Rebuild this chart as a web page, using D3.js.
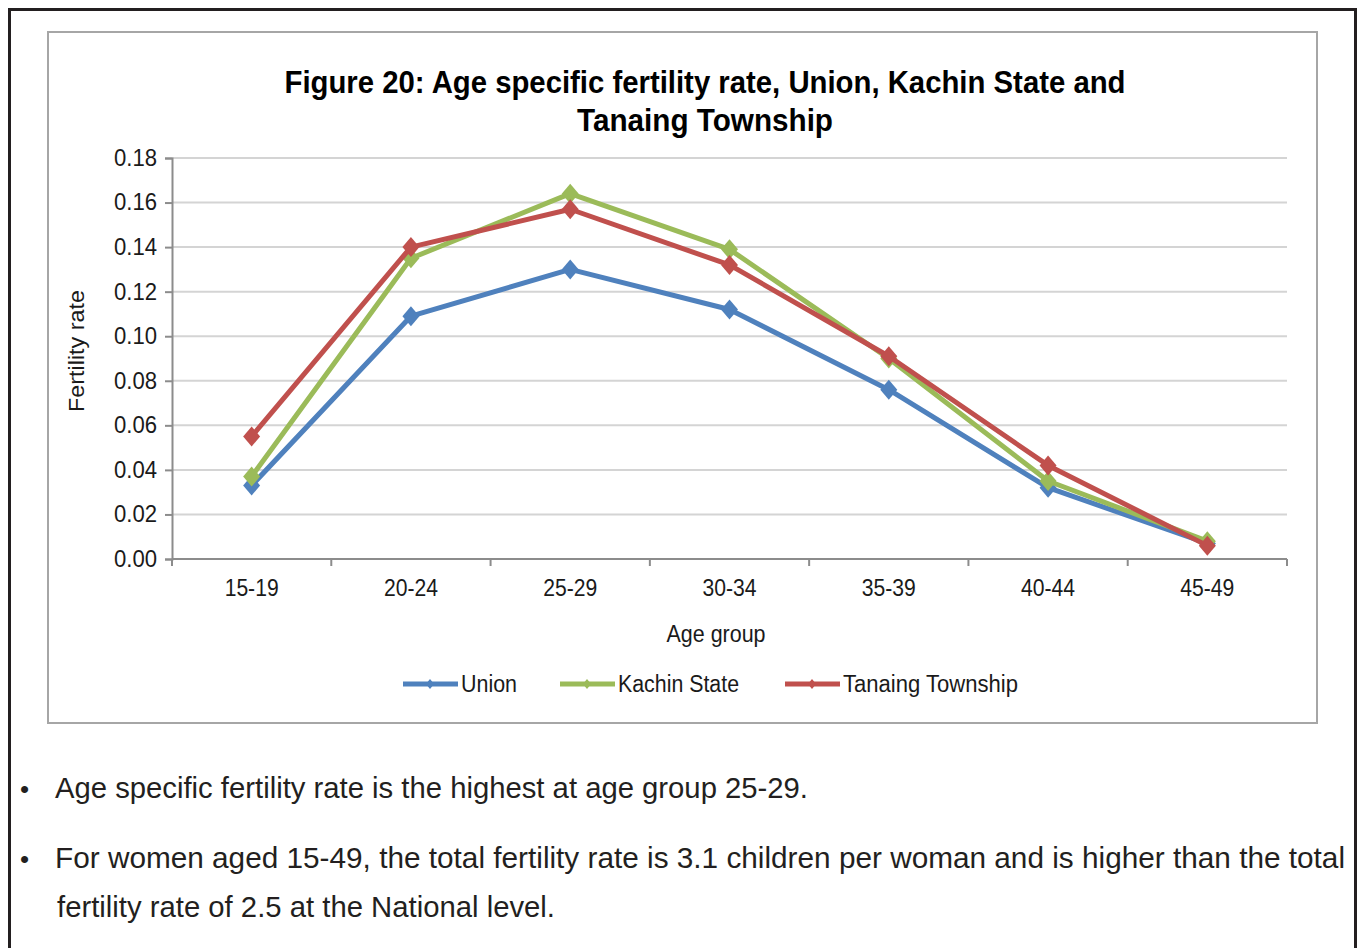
<!DOCTYPE html>
<html>
<head>
<meta charset="utf-8">
<script src="https://cdn.jsdelivr.net/npm/d3@7"></script>
<style>
  html, body { margin: 0; padding: 0; background: #fff; }
  svg { display: block; font-family: "Liberation Sans", Arial, sans-serif; }
</style>
</head>
<body>
<div id="chart"></div>
<script>
// data
const ageGroups = ['15-19', '20-24', '25-29', '30-34', '35-39', '40-44', '45-49'];
const unionRate = [0.033, 0.109, 0.130, 0.112, 0.076, 0.032, 0.007];
const kachinRate = [0.037, 0.135, 0.164, 0.139, 0.090, 0.035, 0.008];
const tanaingRate = [0.055, 0.140, 0.157, 0.132, 0.091, 0.042, 0.006];
const seriesNames = ['Union', 'Kachin State', 'Tanaing Township'];
const yTicks = [0, 0.02, 0.04, 0.06, 0.08, 0.10, 0.12, 0.14, 0.16, 0.18];

const colors = ['#4f81bd', '#9bbb59', '#c0504d'];
const series = [unionRate, kachinRate, tanaingRate].map((vals, i) => ({
  name: seriesNames[i], color: colors[i],
  values: vals.map((v, j) => ({ age: ageGroups[j], v }))
}));

const W = 1358, H = 948;
const svg = d3.select('#chart').append('svg').attr('width', W).attr('height', H);

// excel-like diamond: a bit wider than d3's
const wideDiamond = (w, h) => ({
  draw(ctx) {
    ctx.moveTo(0, -h / 2); ctx.lineTo(w / 2, 0); ctx.lineTo(0, h / 2); ctx.lineTo(-w / 2, 0); ctx.closePath();
  }
});

// page frame + chart box
svg.append('rect').attr('x', 9.5).attr('y', 9.5).attr('width', 1346).attr('height', 960)
  .attr('fill', 'none').attr('stroke', '#231f20').attr('stroke-width', 3);
svg.append('rect').attr('x', 48).attr('y', 32).attr('width', 1269).attr('height', 691)
  .attr('fill', '#fff').attr('stroke', '#a6a6a6').attr('stroke-width', 2);

// title
const title = svg.append('text').attr('text-anchor', 'middle')
  .attr('font-weight', 'bold').attr('font-size', 31).attr('fill', '#000');
title.append('tspan').attr('x', 705).attr('y', 93)
  .attr('textLength', 841).attr('lengthAdjust', 'spacingAndGlyphs')
  .text('Figure 20: Age specific fertility rate, Union, Kachin State and');
title.append('tspan').attr('x', 705).attr('y', 131)
  .attr('textLength', 256).attr('lengthAdjust', 'spacingAndGlyphs')
  .text('Tanaing Township');

// plot area
const x = d3.scaleBand().domain(ageGroups).range([172, 1287]);
const y = d3.scaleLinear().domain([0, 0.18]).range([559, 158]);

// gridlines
svg.append('g').selectAll('line').data(yTicks.slice(1)).join('line')
  .attr('x1', 172).attr('x2', 1287)
  .attr('y1', d => y(d)).attr('y2', d => y(d))
  .attr('stroke', '#d4d4d4').attr('stroke-width', 2);

// y axis
const yAxis = svg.append('g').attr('transform', 'translate(172,0)')
  .call(d3.axisLeft(y).tickValues(yTicks).tickFormat(d3.format('.2f')).tickSize(7).tickPadding(8));
yAxis.select('.domain').attr('stroke', '#8c8c8c').attr('stroke-width', 2);
yAxis.selectAll('.tick line').attr('stroke', '#8c8c8c').attr('stroke-width', 2);
yAxis.selectAll('.tick text').attr('font-size', 23).attr('fill', '#1a1a1a')
  .attr('font-family', '"Liberation Sans", Arial, sans-serif')
  .attr('textLength', 43).attr('lengthAdjust', 'spacingAndGlyphs');

// x axis (ticks at category boundaries)
const xAxis = svg.append('g').attr('transform', 'translate(0,559)');
xAxis.append('line').attr('x1', 172).attr('x2', 1287).attr('y1', 0).attr('y2', 0)
  .attr('stroke', '#8c8c8c').attr('stroke-width', 2);
const bounds = ageGroups.map(a => x(a)).concat([x.range()[1]]);
xAxis.selectAll('line.tk').data(bounds).join('line').attr('class', 'tk')
  .attr('x1', d => d).attr('x2', d => d).attr('y1', 0).attr('y2', 7)
  .attr('stroke', '#8c8c8c').attr('stroke-width', 2);
xAxis.selectAll('text').data(ageGroups).join('text')
  .attr('x', d => x(d) + x.bandwidth() / 2).attr('y', 37)
  .attr('text-anchor', 'middle').attr('font-size', 23).attr('fill', '#1a1a1a')
  .attr('textLength', 54).attr('lengthAdjust', 'spacingAndGlyphs')
  .text(d => d);

// axis titles
svg.append('text').attr('x', 716).attr('y', 642).attr('text-anchor', 'middle')
  .attr('font-size', 23).attr('fill', '#1a1a1a')
  .attr('textLength', 99).attr('lengthAdjust', 'spacingAndGlyphs').text('Age group');
svg.append('text').attr('transform', 'translate(84,351) rotate(-90)').attr('text-anchor', 'middle')
  .attr('font-size', 22).attr('fill', '#1a1a1a')
  .attr('textLength', 122).attr('lengthAdjust', 'spacingAndGlyphs').text('Fertility rate');

// lines + diamond markers
const line = d3.line().x(d => x(d.age) + x.bandwidth() / 2).y(d => y(d.v));
const marker = d3.symbol().type(wideDiamond(17, 20));

series.forEach(s => {
  const g = svg.append('g');
  g.append('path').datum(s.values).attr('d', line)
    .attr('fill', 'none').attr('stroke', s.color).attr('stroke-width', 5)
    .attr('stroke-linejoin', 'round');
  g.selectAll('path.pt').data(s.values).join('path').attr('class', 'pt')
    .attr('d', marker)
    .attr('transform', d => `translate(${x(d.age) + x.bandwidth() / 2},${y(d.v)})`)
    .attr('fill', s.color);
});

// legend
const legendPos = [403, 560, 785];
const legendLen = [56, 121, 175];
const legend = svg.append('g');
series.forEach((s, i) => {
  const lx = legendPos[i];
  legend.append('line').attr('x1', lx).attr('x2', lx + 55).attr('y1', 684).attr('y2', 684)
    .attr('stroke', s.color).attr('stroke-width', 5);
  legend.append('path').attr('d', d3.symbol().type(wideDiamond(8, 10))())
    .attr('transform', `translate(${lx + 27},684)`).attr('fill', s.color);
  legend.append('text').attr('x', lx + 58).attr('y', 692)
    .attr('font-size', 23).attr('fill', '#1a1a1a')
    .attr('textLength', legendLen[i]).attr('lengthAdjust', 'spacingAndGlyphs').text(s.name);
});

// notes under the chart
const notes = svg.append('g').attr('font-size', 30).attr('fill', '#231f20');
notes.append('text').attr('x', 20).attr('y', 798).attr('font-size', 26).text('•');
notes.append('text').attr('x', 55).attr('y', 798)
  .attr('textLength', 753).attr('lengthAdjust', 'spacingAndGlyphs')
  .text('Age specific fertility rate is the highest at age group 25-29.');
notes.append('text').attr('x', 20).attr('y', 868).attr('font-size', 26).text('•');
notes.append('text').attr('x', 55).attr('y', 868)
  .attr('textLength', 1290).attr('lengthAdjust', 'spacingAndGlyphs')
  .text('For women aged 15-49, the total fertility rate is 3.1 children per woman and is higher than the total');
notes.append('text').attr('x', 57).attr('y', 917)
  .attr('textLength', 498).attr('lengthAdjust', 'spacingAndGlyphs')
  .text('fertility rate of 2.5 at the National level.');
</script>
</body>
</html>
